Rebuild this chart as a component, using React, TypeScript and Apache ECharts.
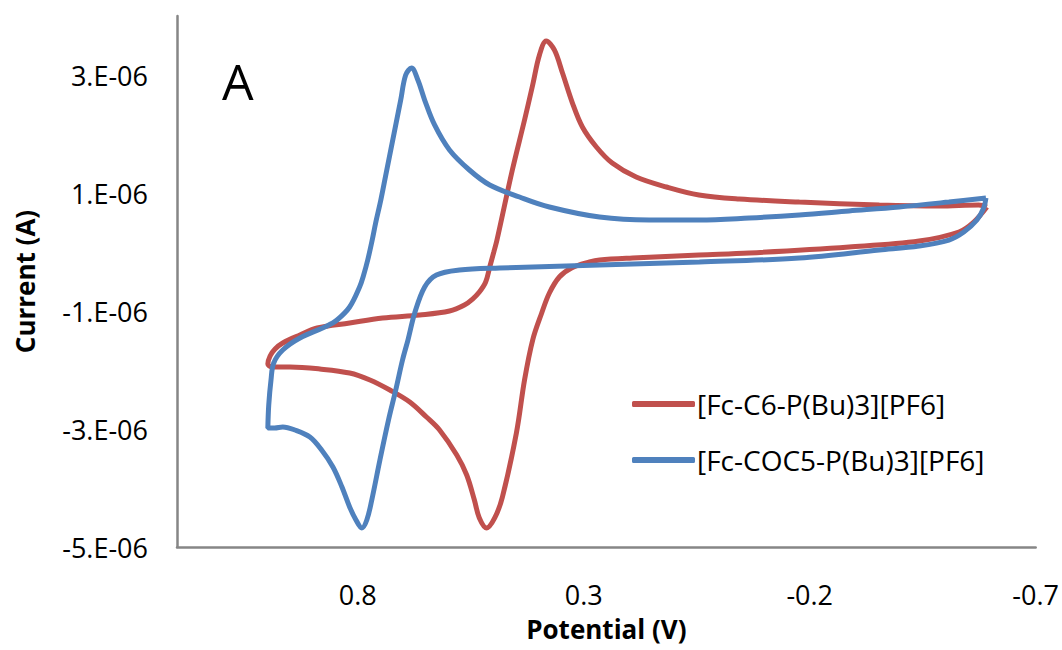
import React, { useEffect, useRef } from "react";
import * as echarts from "echarts";

// Potential (V) and current (µA, shown as x.E-06 A)
const redName = "[Fc-C6-P(Bu)3][PF6]";
const redV = [
  -0.592, -0.563, -0.530, -0.442, -0.287, -0.066, 0.045, 0.192, 0.265, 0.287, 0.327, 0.354, 0.376, 0.393, 0.413, 0.431, 0.449, 0.480, 0.497, 0.515,
  0.531, 0.542, 0.559, 0.581, 0.619, 0.648, 0.685, 0.729, 0.773, 0.818, 0.884, 0.950, 0.990, 0.999,
  0.994, 0.983, 0.966, 0.928, 0.890, 0.818, 0.745, 0.663, 0.597, 0.564, 0.546, 0.531, 0.517, 0.508, 0.499, 0.492, 0.458, 0.431, 0.413, 0.398,
  0.383, 0.365, 0.347, 0.325, 0.303, 0.272, 0.237, 0.184, 0.117, 0.045, -0.044, -0.177, -0.354, -0.486, -0.574, -0.592,
];
const redI = [
  0.763, 0.508, 0.339, 0.186, 0.085, -0.017, -0.051, -0.102, -0.136, -0.169, -0.271, -0.424, -0.695, -1.034, -1.492, -2.169, -3.068, -4.153, -4.508, -4.678,
  -4.508, -4.203, -3.780, -3.441, -3.017, -2.797, -2.542, -2.339, -2.169, -2.051, -1.983, -1.949, -1.949, -1.898,
  -1.763, -1.644, -1.542, -1.407, -1.288, -1.203, -1.119, -1.068, -1.000, -0.898, -0.797, -0.678, -0.508, -0.254, 0.000, 0.203, 1.390, 2.237, 2.830, 3.340,
  3.576, 3.424, 3.034, 2.525, 2.119, 1.780, 1.508, 1.271, 1.102, 0.966, 0.898, 0.847, 0.797, 0.780, 0.797, 0.763,
];

const blueName = "[Fc-COC5-P(Bu)3][PF6]";
const blueV = [
  -0.590, -0.508, -0.398, -0.287, -0.177, -0.066, 0.044, 0.155, 0.265, 0.376, 0.442, 0.508, 0.553, 0.597, 0.630, 0.652, 0.667, 0.681,
  0.694, 0.705, 0.716, 0.727, 0.738, 0.749, 0.760, 0.769, 0.778, 0.787, 0.796, 0.818, 0.846, 0.868, 0.928, 0.966, 0.986, 0.992, 0.997, 0.999,
  0.984, 0.966, 0.939, 0.906, 0.880, 0.855, 0.835, 0.818, 0.804, 0.791, 0.780, 0.769, 0.751, 0.732, 0.716, 0.701, 0.689, 0.674,
  0.652, 0.626, 0.575, 0.486, 0.265, 0.044, -0.177, -0.354, -0.442, -0.508, -0.541, -0.570, -0.585, -0.590,
];
const blueI = [
  0.915, 0.847, 0.763, 0.695, 0.627, 0.576, 0.542, 0.542, 0.593, 0.763, 0.932, 1.136, 1.390, 1.729, 2.153, 2.576, 2.915, 3.119,
  3.000, 2.576, 2.153, 1.729, 1.305, 0.881, 0.508, 0.169, -0.136, -0.390, -0.593, -0.932, -1.153, -1.254, -1.458, -1.661, -1.881, -2.169, -2.593, -2.983,
  -2.983, -2.966, -3.017, -3.136, -3.356, -3.644, -3.983, -4.322, -4.542, -4.678, -4.542, -4.203, -3.525, -2.847, -2.339, -1.831, -1.492, -1.034,
  -0.593, -0.390, -0.305, -0.271, -0.220, -0.169, -0.102, 0.034, 0.102, 0.203, 0.339, 0.542, 0.746, 0.915,
];

const xTicks = [0.8, 0.3, -0.2, -0.7];
const yTicks = [3, 1, -1, -3, -5];

const pairs = (xs: number[], ys: number[]) => xs.map((x, i) => [x, ys[i]]);

export default function App() {
  const ref = useRef<HTMLDivElement>(null);
  useEffect(() => {
    if (!ref.current) return;
    const chart = echarts.init(ref.current, undefined, { renderer: "svg" });
    const font = "'Open Sans', sans-serif";
    chart.setOption({
      animation: false,
      backgroundColor: "#ffffff",
      textStyle: { fontFamily: font },
      grid: { left: 177, right: 25, top: 16, bottom: 103, containLabel: false },
      xAxis: {
        type: "value",
        inverse: true,
        min: -0.7,
        max: 1.2,
        interval: 0.5,
        name: "Potential (V)",
        nameLocation: "middle",
        nameGap: 69,
        nameTextStyle: { fontFamily: font, fontSize: 26, fontWeight: "bold", color: "#000" },
        axisLine: { show: true, onZero: false, lineStyle: { color: "#868686", width: 2.5 } },
        axisTick: { show: false },
        splitLine: { show: false },
        axisLabel: {
          margin: 34,
          fontSize: 27,
          color: "#000",
          fontFamily: font,
          formatter: (v: number) => {
            const t = xTicks.find((k) => Math.abs(k - v) < 1e-6);
            return t === undefined ? "" : t.toFixed(1);
          },
        },
      },
      yAxis: {
        type: "value",
        min: -5,
        max: 4,
        interval: 2,
        name: "Current (A)",
        nameLocation: "middle",
        nameGap: 139,
        nameTextStyle: { fontFamily: font, fontSize: 26, fontWeight: "bold", color: "#000" },
        axisLine: { show: true, onZero: false, lineStyle: { color: "#868686", width: 2.5 } },
        axisTick: { show: false },
        splitLine: { show: false },
        axisLabel: {
          margin: 29,
          fontSize: 27,
          color: "#000",
          fontFamily: font,
          formatter: (v: number) => {
            const t = yTicks.find((k) => Math.abs(k - v) < 1e-6);
            return t === undefined ? "" : `${t}.E-06`;
          },
        },
      },
      legend: {
        orient: "vertical",
        left: 632,
        top: 389,
        padding: 0,
        icon: "roundRect",
        itemWidth: 63,
        itemHeight: 6,
        itemGap: 26,
        textStyle: { fontFamily: font, fontSize: 28, color: "#000", lineHeight: 30, padding: [0, 0, 0, -3] },
        data: [redName, blueName],
      },
      graphic: [
        {
          type: "text",
          left: 222,
          top: 56,
          style: { text: "A", fontSize: 50, fontFamily: font, fill: "#000" },
        },
      ],
      series: [
        {
          name: redName,
          type: "line",
          data: pairs(redV, redI),
          smooth: 0.35,
          showSymbol: false,
          symbol: "none",
          lineStyle: { color: "#C0504D", width: 5 },
          itemStyle: { color: "#C0504D" },
          z: 2,
        },
        {
          name: blueName,
          type: "line",
          data: pairs(blueV, blueI),
          smooth: 0.35,
          showSymbol: false,
          symbol: "none",
          lineStyle: { color: "#4F81BD", width: 5 },
          itemStyle: { color: "#4F81BD" },
          z: 3,
        },
      ],
    });
    return () => chart.dispose();
  }, []);
  return <div ref={ref} style={{ width: 1062, height: 650, position: "absolute", left: 0, top: 0 }} />;
}
